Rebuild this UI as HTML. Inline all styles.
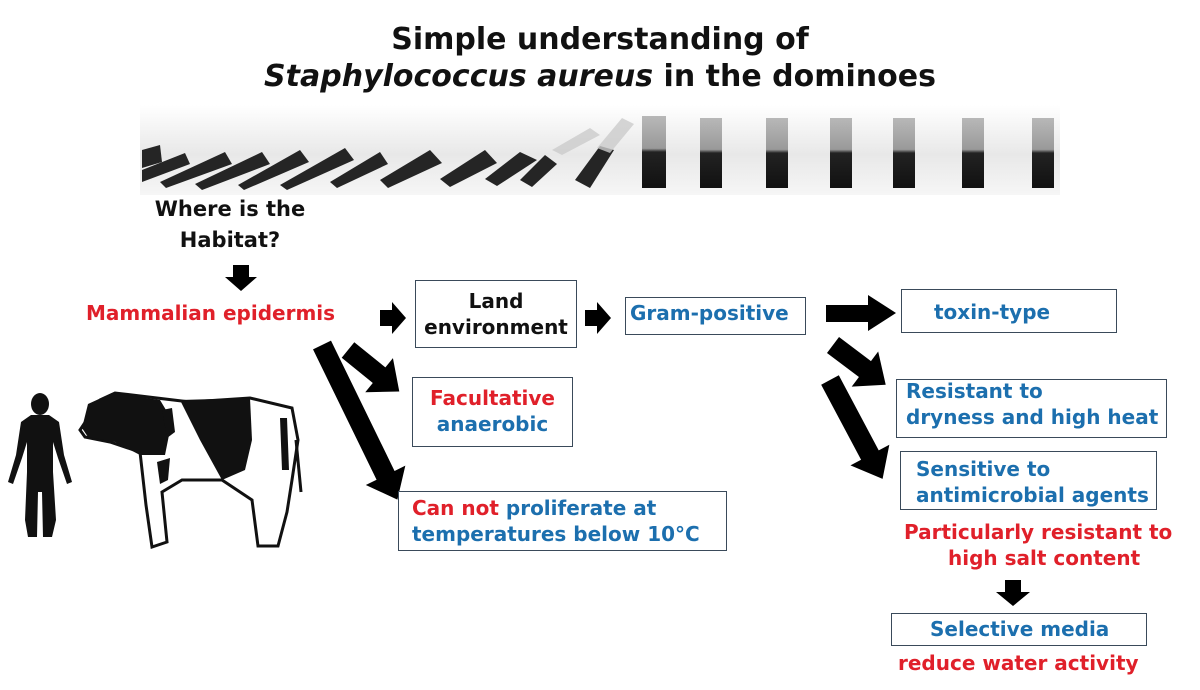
<!DOCTYPE html>
<html><head><meta charset="utf-8"><style>
body{margin:0;width:1200px;height:690px;background:#fff;position:relative;overflow:hidden;font-family:"DejaVu Sans","Liberation Sans",sans-serif;font-weight:bold}
.t{position:absolute;white-space:nowrap}
.r{color:#e0202a}.b{color:#1c6fae}
.box{position:absolute;border:1.5px solid #3a4a5a;box-sizing:border-box;background:#fff}
.f{font-size:20px;line-height:26px}
</style></head><body>
<div class="t" style="left:0;width:1200px;text-align:center;top:21px;font-size:30px;line-height:37px;color:#111">Simple understanding of<br><i>Staphylococcus aureus</i> in the dominoes</div>

<svg style="position:absolute;left:0;top:0" width="1200" height="690">
<defs>
<linearGradient id="g" x1="0" y1="0" x2="0" y2="1"><stop offset="0" stop-color="#fff"/><stop offset="0.55" stop-color="#e8e8e8"/><stop offset="1" stop-color="#f6f6f6"/></linearGradient>
<linearGradient id="d" x1="0" y1="0" x2="0" y2="1"><stop offset="0" stop-color="#b8b8b8"/><stop offset="0.45" stop-color="#999"/><stop offset="0.5" stop-color="#222"/><stop offset="1" stop-color="#111"/></linearGradient>
</defs>
<rect x="140" y="105" width="920" height="90" fill="url(#g)"/>
<g fill="#252525">
<polygon points="142,150 160,145 162,162 142,168"/>
<polygon points="142,170 185,153 190,164 142,182"/>
<polygon points="160,182 225,152 232,164 166,188"/>
<polygon points="195,184 262,152 270,164 202,190"/>
<polygon points="238,185 300,150 309,162 244,190"/>
<polygon points="280,185 345,148 354,160 287,190"/>
<polygon points="330,182 380,152 388,164 337,188"/>
<polygon points="380,180 430,150 442,163 388,188"/>
<polygon points="440,179 485,150 497,163 450,187"/>
<polygon points="485,179 520,152 537,160 497,186"/>
<polygon points="520,180 545,155 557,164 532,187"/>
<polygon points="575,180 600,146 614,150 590,188"/>
</g>
<g fill="#ccc" opacity="0.8">
<polygon points="597,148 622,118 634,124 610,153"/>
<polygon points="552,150 590,128 600,135 562,155"/>
</g>
<g fill="url(#d)">
<rect x="642" y="116" width="24" height="72"/>
<rect x="700" y="118" width="22" height="70"/>
<rect x="766" y="118" width="22" height="70"/>
<rect x="830" y="118" width="22" height="70"/>
<rect x="893" y="118" width="22" height="70"/>
<rect x="962" y="118" width="22" height="70"/>
<rect x="1032" y="118" width="22" height="70"/>
</g>

<g fill="#000">
<polygon points="233,265 249,265 249,277 257,277 241,291 225,277 233,277"/>
<polygon points="380,310 392,310 392,302 406,318 392,334 392,326 380,326"/>
<polygon points="585,310 597,310 597,302 611,318 597,334 597,326 585,326"/>
<polygon points="826,305 868,305 868,295 896,313 868,331 868,322 826,322"/>
<polygon points="1005,580 1021,580 1021,592 1030,592 1013,606 996,592 1005,592"/>
<g transform="translate(348,350) rotate(39)"><polygon points="0,-10 40,-10 40,-22 66,0 40,22 40,10 0,10"/></g>
<g transform="translate(322,345) rotate(64)"><polygon points="0,-10 145,-10 145,-22 172,0 145,22 145,10 0,10"/></g>
<g transform="translate(833,345) rotate(37)"><polygon points="0,-10 40,-10 40,-22 66,0 40,22 40,10 0,10"/></g>
<g transform="translate(830,380) rotate(62)"><polygon points="0,-10 85,-10 85,-22 112,0 85,22 85,10 0,10"/></g>
</g>

<!-- human -->
<g fill="#111">
<ellipse cx="40" cy="404" rx="9" ry="11"/>
<path d="M31,415 L49,415 L59,422 L64,455 L72,482 L67,484 L58,458 L53,442 L53,472 L56,520 L52,537 L43,537 L42,492 L38,492 L37,537 L28,537 L25,520 L27,472 L27,442 L22,458 L13,484 L8,482 L16,455 L21,422 Z"/>
</g>
<!-- cow -->
<path d="M100,400 L115,393 L190,402 L250,398 L292,408 L298,440 L292,480 L287,512 L278,546 L258,546 L252,500 L222,480 L182,480 L162,492 L167,542 L152,547 L146,505 L140,452 L110,442 L85,437 L80,430 Z" fill="#fff" stroke="#111" stroke-width="3"/>
<path d="M88,404 L112,393 L160,400 L172,420 L165,455 L140,455 L115,442 L88,437 L82,428 Z" fill="#111"/>
<path d="M180,400 L250,398 L252,440 L245,470 L222,480 L200,440 Z" fill="#111"/>
<path d="M162,410 L172,408 L175,432 L167,438 Z" fill="#111"/>
<path d="M157,462 L170,458 L168,480 L160,484 Z" fill="#111"/>
<path d="M280,418 L287,418 L289,470 L282,470 Z" fill="#111"/>
<path d="M296,440 L301,492" stroke="#111" stroke-width="3"/>
</svg>

<div class="t" style="left:130px;width:200px;text-align:center;top:194px;font-size:21px;line-height:31px;color:#111">Where is the<br>Habitat?</div>
<div class="t r f" style="left:86px;top:300px">Mammalian epidermis</div>

<div class="box" style="left:415px;top:280px;width:162px;height:68px"></div>
<div class="t f" style="left:415px;width:162px;text-align:center;top:288px;color:#111">Land<br>environment</div>

<div class="box" style="left:625px;top:297px;width:181px;height:38px"></div>
<div class="t b f" style="left:630px;top:300px">Gram-positive</div>

<div class="box" style="left:901px;top:289px;width:216px;height:44px"></div>
<div class="t b f" style="left:934px;top:299px">toxin-type</div>

<div class="box" style="left:896px;top:379px;width:271px;height:59px"></div>
<div class="t b f" style="left:906px;top:378px">Resistant to<br>dryness and high heat</div>

<div class="box" style="left:900px;top:451px;width:257px;height:59px"></div>
<div class="t b f" style="left:916px;top:456px">Sensitive to<br>antimicrobial agents</div>

<div class="t r f" style="left:904px;top:519px">Particularly resistant to</div>
<div class="t r f" style="left:948px;top:545px">high salt content</div>

<div class="box" style="left:891px;top:613px;width:256px;height:33px"></div>
<div class="t b f" style="left:930px;top:616px">Selective media</div>
<div class="t r f" style="left:898px;top:650px">reduce water activity</div>

<div class="box" style="left:412px;top:377px;width:161px;height:70px"></div>
<div class="t f" style="left:412px;width:161px;text-align:center;top:385px"><span class="r">Facultative</span><br><span class="b">anaerobic</span></div>

<div class="box" style="left:398px;top:491px;width:329px;height:60px"></div>
<div class="t f" style="left:412px;top:495px"><span class="r">Can not</span> <span class="b">proliferate at</span><br><span class="b">temperatures below 10°C</span></div>
</body></html>
